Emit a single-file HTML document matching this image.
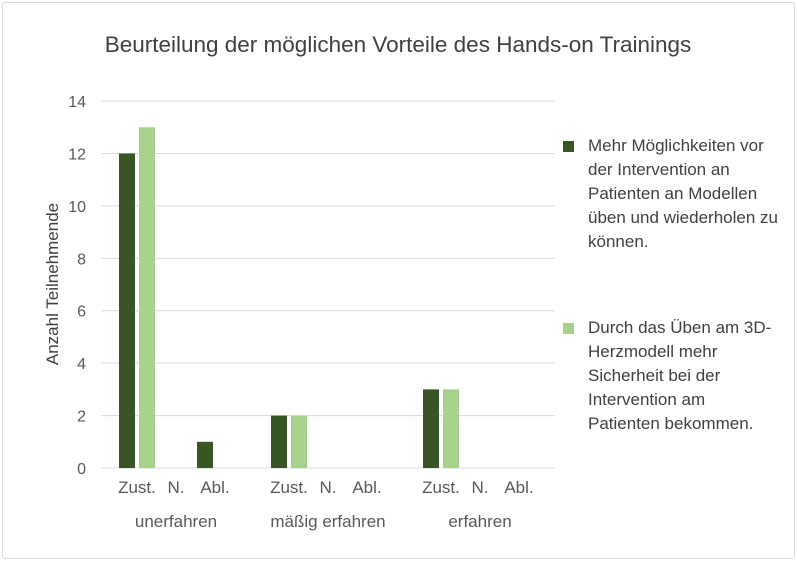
<!DOCTYPE html>
<html><head><meta charset="utf-8"><style>
body{margin:0;background:#fff;font-family:"Liberation Sans",sans-serif;}
#wrap{position:relative;width:797px;height:561px;}
.frame{position:absolute;left:2px;top:2px;width:791px;height:555px;border:1px solid #d9d9d9;border-radius:3px;}
.leg{position:absolute;left:563px;font-size:17px;color:#404040;line-height:24px;}
.leg .sw{position:absolute;left:0;top:7px;width:11px;height:11px;}
.leg .tx{margin-left:25px;width:190px;}
</style></head><body>
<div id="wrap">
<div class="frame"></div>
<svg id="svg" width="797" height="561" style="position:absolute;left:0;top:0">
<text x="398" y="52" text-anchor="middle" font-size="22.5" fill="#404040" font-family="Liberation Sans, sans-serif">Beurteilung der möglichen Vorteile des Hands-on Trainings</text>
<text transform="translate(58,284) rotate(-90)" text-anchor="middle" font-size="17" fill="#404040" font-family="Liberation Sans, sans-serif">Anzahl Teilnehmende</text>
</svg>
<div class="leg" style="top:134px"><div class="sw" style="background:#375623"></div><div class="tx">Mehr Möglichkeiten vor der Intervention an Patienten an Modellen üben und wiederholen zu können.</div></div>
<div class="leg" style="top:316px"><div class="sw" style="background:#a9d18e"></div><div class="tx">Durch das Üben am 3D-Herzmodell mehr Sicherheit bei der Intervention am Patienten bekommen.</div></div>
</div>
<script>
const groups=["unerfahren","mäßig erfahren","erfahren"];
const subs=["Zust.","N.","Abl."];
const series1=[12,0,1, 2,0,0, 3,0,0];
const series2=[13,0,0, 2,0,0, 3,0,0];
const yTicks=[0,2,4,6,8,10,12,14];
const svg=document.getElementById('svg');
const NS="http://www.w3.org/2000/svg";
function y(v){return 468-v*26.21;}
function xc(g,s){return 137+g*152+s*39;}
function mk(t,a,txt){const e=document.createElementNS(NS,t);for(const k in a)e.setAttribute(k,a[k]);if(txt!==undefined)e.textContent=txt;svg.appendChild(e);return e;}
yTicks.forEach(v=>{
 const l=mk('line',{x1:101,x2:555,y1:y(v),y2:y(v),stroke:'#d9d9d9','stroke-width':1});
 
 
 const t=mk('text',{x:86,y:y(v)+6,'text-anchor':'end','font-size':16,fill:'#595959','font-family':'Liberation Sans, sans-serif'},String(v));
 
 
});
groups.forEach((g,gi)=>{
 subs.forEach((s,si)=>{
  const i=gi*3+si,c=xc(gi,si);
  const b1=mk('rect',{x:c-18,y:y(series1[i]),width:16,height:series1[i]*26.21,fill:'#375623'});
  
  
  const b2=mk('rect',{x:c+2,y:y(series2[i]),width:16,height:series2[i]*26.21,fill:'#a9d18e'});
  
  
  const t=mk('text',{x:c,y:493,'text-anchor':'middle','font-size':17,fill:'#595959','font-family':'Liberation Sans, sans-serif'},s);
  
  
 });
 const gt=mk('text',{x:xc(gi,1),y:527,'text-anchor':'middle','font-size':17,fill:'#595959','font-family':'Liberation Sans, sans-serif'},g);
 
 
});
</script>
</body></html>
